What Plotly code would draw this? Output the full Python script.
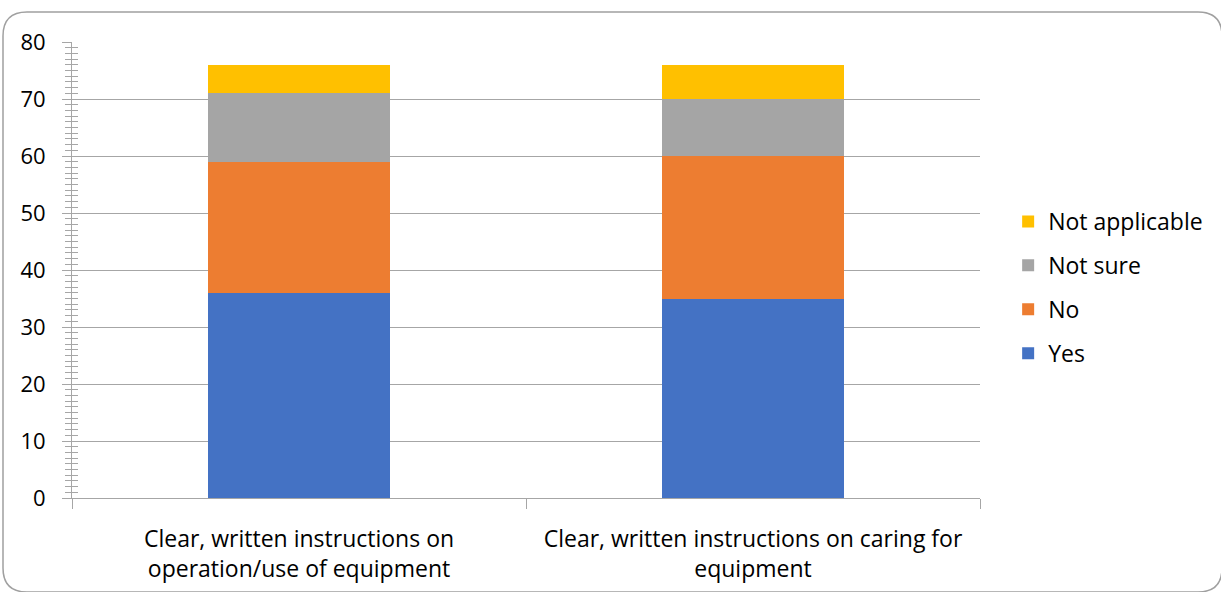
import plotly.graph_objects as go

categories = [
    "Clear, written instructions on<br>operation/use of equipment",
    "Clear, written instructions on caring for<br>equipment",
]
yes_vals = [36, 35]
no_vals = [23, 25]
not_sure_vals = [12, 10]
not_applicable_vals = [5, 6]

series = [
    ("Yes", yes_vals, "#4472C4"),
    ("No", no_vals, "#ED7D31"),
    ("Not sure", not_sure_vals, "#A5A5A5"),
    ("Not applicable", not_applicable_vals, "#FFC000"),
]

FONT = "Open Sans"
FS = 23
GRID = "#a6a6a6"
W, H = 1221, 592
ML, MR, MT, MB = 72, 241, 42, 94

fig = go.Figure()
for i, (name, vals, color) in enumerate(series):
    fig.add_trace(go.Bar(
        x=categories, y=vals, name=name, legendgroup=name,
        legendrank=len(series) - i,
        marker=dict(color=color, line=dict(width=0)),
    ))

# invisible trace so the overlay axis (inner half of the y ticks) is drawn
fig.add_trace(go.Scatter(x=[categories[0]], y=[0], yaxis="y2", mode="markers",
                         marker=dict(opacity=0), showlegend=False, hoverinfo="skip"))

# rounded border around the whole chart, expressed in paper coordinates
def px(xp):
    return (xp - ML) / (W - ML - MR)

def py(yp):
    return (H - MB - yp) / (H - MT - MB)

x0, x1, y0, y1, r = 3, 1222, 12, 592, 24
path = (
    f"M {px(x0 + r)},{py(y0)} L {px(x1 - r)},{py(y0)} "
    f"Q {px(x1)},{py(y0)} {px(x1)},{py(y0 + r)} "
    f"L {px(x1)},{py(y1 - r)} Q {px(x1)},{py(y1)} {px(x1 - r)},{py(y1)} "
    f"L {px(x0 + r)},{py(y1)} Q {px(x0)},{py(y1)} {px(x0)},{py(y1 - r)} "
    f"L {px(x0)},{py(y0 + r)} Q {px(x0)},{py(y0)} {px(x0 + r)},{py(y0)} Z"
)

fig.update_layout(
    width=W, height=H,
    margin=dict(l=ML, r=MR, t=MT, b=MB, autoexpand=False),
    paper_bgcolor="white", plot_bgcolor="white",
    barmode="stack", bargap=0.6,
    font=dict(family=FONT, size=FS, color="#000000"),
    xaxis=dict(
        showline=True, linecolor=GRID, linewidth=1, automargin=False,
        ticks="outside", tickson="boundaries", ticklen=10, tickcolor=GRID,
        showgrid=False, tickfont=dict(size=FS), ticklabelstandoff=20,
    ),
    yaxis=dict(
        range=[0, 80], dtick=10, showline=True, linecolor=GRID, linewidth=1,
        automargin=False,
        ticks="outside", ticklen=9, tickcolor=GRID,
        minor=dict(ticks="outside", dtick=1, ticklen=6, tickcolor=GRID, showgrid=False),
        showgrid=True, gridcolor=GRID, gridwidth=1, zeroline=False,
        tickfont=dict(size=22), ticklabelstandoff=12,
    ),
    yaxis2=dict(
        range=[0, 80], dtick=10, overlaying="y", side="left", anchor="x",
        automargin=False,
        ticks="inside", ticklen=8, tickcolor=GRID, showticklabels=False,
        minor=dict(ticks="inside", dtick=1, ticklen=6, tickcolor=GRID),
        showgrid=False, zeroline=False, showline=False,
    ),
    legend=dict(
        x=1.031, y=0.4616, xanchor="left", yanchor="middle",
        traceorder="grouped", tracegroupgap=11,
        font=dict(size=FS), itemwidth=30,
    ),
    shapes=[dict(type="path", xref="paper", yref="paper", path=path,
                 line=dict(color="#a0a0a0", width=1.5), layer="below")],
    showlegend=True,
)

fig.write_html("out.html")
